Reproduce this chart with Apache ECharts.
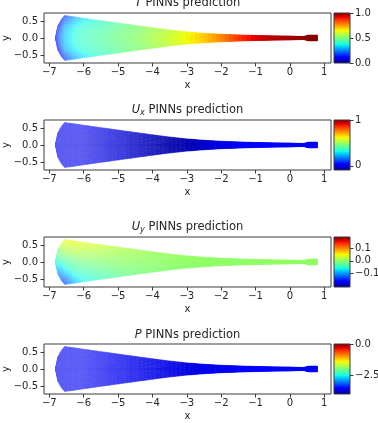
<!DOCTYPE html>
<html><head><meta charset="utf-8">
<script src="https://cdn.jsdelivr.net/npm/echarts@6/dist/echarts.min.js"></script>
<style>html,body{margin:0;padding:0;background:#fff}#c{width:378px;height:423px}</style>
</head><body><div id="c"></div>
<script>
// ---------- data ----------
const stationX   = [-6.82, -6.75, -6.65, -6.55, -6.25, -6.0, -5.5, -5.0, -4.5, -4.0, -3.5, -3.0, -2.5, -2.0, -1.5, -1.0, -0.5, 0.0, 0.4, 0.55, 0.8];
const halfHeight = [0, 0.36, 0.54, 0.66, 0.62, 0.58, 0.51, 0.44, 0.37, 0.30, 0.235, 0.18, 0.14, 0.11, 0.09, 0.075, 0.062, 0.055, 0.045, 0.085, 0.085];
const radialLevels = [1, 0.5, 0, -0.5, -1];   // fraction of half height (top -> bottom)

const xTicks = [-7, -6, -5, -4, -3, -2, -1, 0, 1];
const yTicks = [-0.5, 0, 0.5];

// T
const T_wall   = [0.12, 0.12, 0.13, 0.15, 0.28, 0.34, 0.41, 0.46, 0.50, 0.54, 0.58, 0.63, 0.69, 0.76, 0.845, 0.915, 0.95, 0.97, 0.98, 0.99, 0.99];
const T_mid    = [0.12, 0.17, 0.23, 0.29, 0.37, 0.40, 0.44, 0.48, 0.51, 0.55, 0.59, 0.64, 0.695, 0.765, 0.85, 0.92, 0.95, 0.97, 0.98, 0.99, 0.99];
const T_center = [0.12, 0.19, 0.26, 0.32, 0.39, 0.42, 0.45, 0.485, 0.52, 0.56, 0.60, 0.645, 0.70, 0.77, 0.855, 0.92, 0.95, 0.97, 0.98, 0.99, 0.99];
const T_range  = [0, 1];
const T_cbTicks = [0, 0.5, 1];

// Ux
const Ux_wall   = [0.01, 0.015, 0.02, 0.02, 0.02, 0.015, 0.01, -0.005, -0.02, -0.035, -0.045, -0.04, -0.015, 0.01, 0.02, 0.025, 0.03, 0.035, 0.035, 0.04, 0.04];
const Ux_center = [0.01, 0.01, 0.01, 0.01, 0.01, 0.005, 0.0, -0.01, -0.025, -0.04, -0.05, -0.045, -0.02, 0.01, 0.02, 0.025, 0.03, 0.035, 0.035, 0.04, 0.04];
const Ux_range  = [-0.09, 1.0];
const Ux_cbTicks = [0, 1];

// Uy
const Uy_top      = [-0.06, -0.01, 0.025, 0.05, 0.045, 0.04, 0.03, 0.018, 0.01, 0.005, 0.003, 0.002, 0.001, 0, 0, 0, 0, 0, 0, 0, 0];
const Uy_upper    = [-0.06, -0.03, -0.005, 0.012, 0.018, 0.017, 0.013, 0.008, 0.005, 0.003, 0.002, 0.001, 0.001, 0, 0, 0, 0, 0, 0, 0, 0];
const Uy_center   = [-0.06, -0.055, -0.045, -0.035, -0.018, -0.012, -0.006, -0.002, 0, 0, 0, 0, 0, 0, 0, 0, 0, 0, 0, 0, 0];
const Uy_lower    = [-0.06, -0.08, -0.09, -0.085, -0.05, -0.038, -0.024, -0.013, -0.006, -0.003, -0.002, -0.001, 0, 0, 0, 0, 0, 0, 0, 0, 0];
const Uy_bottom   = [-0.06, -0.10, -0.13, -0.145, -0.09, -0.065, -0.042, -0.026, -0.015, -0.008, -0.005, -0.003, -0.002, -0.001, 0, 0, 0, 0, 0, 0, 0];
const Uy_range    = [-0.21, 0.19];
const Uy_cbTicks  = [-0.1, 0, 0.1];

// P
const P_center = [-3.58, -3.58, -3.58, -3.58, -3.58, -3.58, -3.58, -3.59, -3.60, -3.61, -3.62, -3.62, -3.60, -3.57, -3.55, -3.53, -3.52, -3.51, -3.50, -3.49, -3.49];
const P_range  = [-3.97, 0];
const P_cbTicks = [-2.5, 0];

// ---------- styling / rendering ----------
const FONT = 'DejaVu Sans';
const TXT = '#262626';
const FRAME = '#3a3a3a';
const XMIN = -7.155, XMAX = 1.195, YMIN = -0.735, YMAX = 0.735;
const tops = [13, 120, 237, 344];
const plotH = 50, plotL = 44, plotW = 287, cbL = 334, cbW = 16;
const titleTops = [-4, 103, 220, 328];

const panels = [
  { title: '{i|T}{n| PINNs prediction}', field: [T_wall, T_mid, T_center, T_mid, T_wall], range: T_range, cbTicks: T_cbTicks, dec: 1 },
  { title: '{i|U}{s|x}{n| PINNs prediction}', field: [Ux_wall, Ux_center, Ux_center, Ux_center, Ux_wall], range: Ux_range, cbTicks: Ux_cbTicks, dec: 0 },
  { title: '{i|U}{s|y}{n| PINNs prediction}', field: [Uy_top, Uy_upper, Uy_center, Uy_lower, Uy_bottom], range: Uy_range, cbTicks: Uy_cbTicks, dec: 1 },
  { title: '{i|P}{n| PINNs prediction}', field: [P_center, P_center, P_center, P_center, P_center], range: P_range, cbTicks: P_cbTicks, dec: 1 }
];

const JET = {
  r: [[0, 0], [0.35, 0], [0.66, 1], [0.89, 1], [1, 0.5]],
  g: [[0, 0], [0.125, 0], [0.375, 1], [0.64, 1], [0.91, 0], [1, 0]],
  b: [[0, 0.5], [0.11, 1], [0.34, 1], [0.65, 0], [1, 0]]
};
function seg(pts, t) {
  for (let k = 1; k < pts.length; k++) {
    if (t <= pts[k][0]) {
      const [a0, v0] = pts[k - 1], [a1, v1] = pts[k];
      return v0 + (v1 - v0) * (t - a0) / (a1 - a0);
    }
  }
  return pts[pts.length - 1][1];
}
function jet(t) {
  t = Math.max(0, Math.min(1, t));
  return [seg(JET.r, t), seg(JET.g, t), seg(JET.b, t)];
}
function rgb(c, alpha) {
  const f = v => Math.round(255 * (1 - alpha) + 255 * v * alpha);
  return 'rgb(' + f(c[0]) + ',' + f(c[1]) + ',' + f(c[2]) + ')';
}
function fade(x) { // washed-out look of the sparse mesh on the wide end
  return 0.64 + 0.36 * Math.max(0, Math.min(1, (x + 6) / 3.2));
}
function minusFmt(s) { return s.replace('-', '\u2212'); }

function fieldRenderer(field, range) {
  return function (params, api) {
    const i = api.value(0), j = api.value(1);
    const NX = 4, NY = 4, children = [];
    const pos = (s, u) => {
      const x = stationX[i] + (stationX[i + 1] - stationX[i]) * s;
      const r = halfHeight[i] + (halfHeight[i + 1] - halfHeight[i]) * s;
      const t = radialLevels[j] + (radialLevels[j + 1] - radialLevels[j]) * u;
      return api.coord([x, r * t]);
    };
    const val = (s, u) => {
      const a = field[j][i], b = field[j][i + 1], c = field[j + 1][i], d = field[j + 1][i + 1];
      return (a * (1 - s) + b * s) * (1 - u) + (c * (1 - s) + d * s) * u;
    };
    for (let a = 0; a < NX; a++) {
      for (let b = 0; b < NY; b++) {
        const s0 = a / NX, s1 = (a + 1) / NX, u0 = b / NY, u1 = (b + 1) / NY;
        const sm = (s0 + s1) / 2, um = (u0 + u1) / 2;
        const v = val(sm, um);
        const xm = stationX[i] + (stationX[i + 1] - stationX[i]) * sm;
        const col = rgb(jet((v - range[0]) / (range[1] - range[0])), fade(xm));
        children.push({
          type: 'polygon',
          shape: { points: [pos(s0, u0), pos(s1, u0), pos(s1, u1), pos(s0, u1)] },
          style: { fill: col, stroke: col, lineWidth: 0.6 }
        });
      }
    }
    return { type: 'group', children };
  };
}

const cbStops = [];
for (let k = 0; k <= 40; k++) cbStops.push({ offset: k / 40, color: rgb(jet(k / 40), 1) });

const grid = [], xAxis = [], yAxis = [], series = [], title = [];
panels.forEach((p, k) => {
  // main plot
  grid.push({ left: plotL, top: tops[k], width: plotW, height: plotH, show: true, borderColor: FRAME, borderWidth: 1, backgroundColor: '#fff', containLabel: false, outerBoundsMode: 'none' });
  xAxis.push({
    type: 'value', gridIndex: 2 * k, min: XMIN, max: XMAX, position: 'bottom',
    axisLine: { show: false, onZero: false }, splitLine: { show: false },
    axisTick: { show: true, length: 3.5, customValues: xTicks, lineStyle: { color: FRAME } },
    axisLabel: { customValues: xTicks, margin: 4, fontSize: 10, fontFamily: FONT, color: TXT, formatter: v => minusFmt(String(Math.round(v))) },
    name: 'x', nameLocation: 'middle', nameGap: 17, nameMoveOverlap: false, nameTextStyle: { fontSize: 10, fontFamily: FONT, color: TXT }
  });
  yAxis.push({
    type: 'value', gridIndex: 2 * k, min: YMIN, max: YMAX, position: 'left',
    axisLine: { show: false, onZero: false }, splitLine: { show: false },
    axisTick: { show: true, length: 3.5, customValues: yTicks, lineStyle: { color: FRAME } },
    axisLabel: { customValues: yTicks, margin: 6, fontSize: 10, fontFamily: FONT, color: TXT, formatter: v => minusFmt(v.toFixed(1)) },
    name: 'y', nameLocation: 'middle', nameGap: 33, nameMoveOverlap: false, nameTextStyle: { fontSize: 10, fontFamily: FONT, color: TXT }
  });
  const cells = [];
  for (let i = 0; i < stationX.length - 1; i++) for (let j = 0; j < radialLevels.length - 1; j++) cells.push([i, j]);
  series.push({
    type: 'custom', xAxisIndex: 2 * k, yAxisIndex: 2 * k, clip: true, silent: true, animation: false,
    renderItem: fieldRenderer(p.field, p.range), data: cells
  });
  // colorbar
  grid.push({ left: cbL, top: tops[k], width: cbW, height: plotH, show: false, containLabel: false, outerBoundsMode: 'none' });
  xAxis.push({ type: 'value', gridIndex: 2 * k + 1, min: 0, max: 1, show: false });
  yAxis.push({
    type: 'value', gridIndex: 2 * k + 1, position: 'right', min: p.range[0], max: p.range[1],
    axisLine: { show: false, onZero: false }, splitLine: { show: false },
    axisTick: { show: true, length: 3.5, customValues: p.cbTicks, lineStyle: { color: FRAME } },
    axisLabel: { customValues: p.cbTicks, margin: 5, fontSize: 10, fontFamily: FONT, color: TXT, formatter: v => minusFmt(v.toFixed(p.dec)) }
  });
  series.push({
    type: 'custom', xAxisIndex: 2 * k + 1, yAxisIndex: 2 * k + 1, silent: true, animation: false,
    encode: { x: [0, 2], y: [1, 3] },
    data: [[0, p.range[0], 1, p.range[1]]],
    renderItem: function (params, api) {
      const p0 = api.coord([api.value(0), api.value(1)]), p1 = api.coord([api.value(2), api.value(3)]);
      return {
        type: 'rect',
        shape: { x: p0[0], y: p1[1], width: p1[0] - p0[0], height: p0[1] - p1[1] },
        style: { fill: new echarts.graphic.LinearGradient(0, 1, 0, 0, cbStops), stroke: FRAME, lineWidth: 1 }
      };
    }
  });
  title.push({
    text: p.title, left: plotL + plotW / 2, top: titleTops[k], textAlign: 'center', padding: 0,
    textStyle: {
      fontWeight: 'normal', fontFamily: FONT, fontSize: 11.5, color: TXT,
      rich: {
        i: { fontFamily: FONT, fontSize: 11.5, fontStyle: 'italic', fontWeight: 'normal', color: TXT, lineHeight: 14, verticalAlign: 'middle' },
        n: { fontFamily: FONT, fontSize: 11.5, fontWeight: 'normal', color: TXT, lineHeight: 14, verticalAlign: 'middle' },
        s: { fontFamily: FONT, fontSize: 8, fontStyle: 'italic', fontWeight: 'normal', color: TXT, lineHeight: 8, verticalAlign: 'bottom' }
      }
    }
  });
});

const chart = echarts.init(document.getElementById('c'), null, { renderer: 'canvas' });
chart.setOption({ animation: false, backgroundColor: '#fff', title, grid, xAxis, yAxis, series });
</script></body></html>
